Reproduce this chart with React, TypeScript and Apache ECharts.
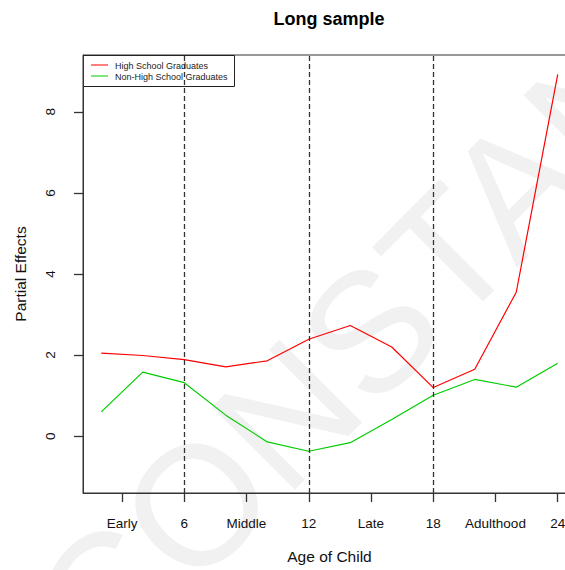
import React, { useEffect, useRef } from "react";
import * as echarts from "echarts";

const ages = [2, 4, 6, 8, 10, 12, 14, 16, 18, 20, 22, 24];
const hsGrad = [2.05, 1.99, 1.89, 1.71, 1.86, 2.39, 2.73, 2.2, 1.2, 1.65, 3.55, 8.92];
const nonHsGrad = [0.6, 1.58, 1.32, 0.52, -0.14, -0.37, -0.16, 0.41, 1.01, 1.4, 1.21, 1.8];
const xTickValues = [3, 6, 9, 12, 15, 18, 21, 24];
const xTickLabels = ["Early", "6", "Middle", "12", "Late", "18", "Adulthood", "24"];
const yTickValues = [0, 2, 4, 6, 8];
const cutoffs = [6, 12, 18];
const seriesNames = ["High School Graduates", "Non-High School Graduates"];
const seriesColors = ["#ff0000", "#00cd00"];
const chartTitle = "Long sample";

const FONT = '"Liberation Sans", Arial, sans-serif';

export default function App() {
  const ref = useRef<HTMLDivElement>(null);
  useEffect(() => {
    if (!ref.current) return;
    const chart = echarts.init(ref.current, null, { renderer: "svg" });
    const labelMap: Record<number, string> = {};
    xTickValues.forEach((v, i) => (labelMap[v] = xTickLabels[i]));
    const option: any = {
      animation: false,
      grid: {
        left: 83,
        top: 55,
        width: 493,
        height: 438,
        outerBoundsMode: "none",
        containLabel: false,
        show: true,
        borderColor: "#333",
        borderWidth: 1,
        backgroundColor: "transparent",
      },
      xAxis: {
        type: "value",
        min: 1.12,
        max: 24.88,
        name: "Age of Child",
        nameLocation: "middle",
        nameGap: 55,
        nameTextStyle: { fontFamily: FONT, fontSize: 15.5, color: "#111" },
        axisLine: { show: true, onZero: false, lineStyle: { color: "#333", width: 1 } },
        axisTick: {
          show: true,
          length: 9,
          customValues: xTickValues,
          lineStyle: { color: "#333", width: 1.3 },
        },
        axisLabel: {
          show: true,
          customValues: xTickValues,
          margin: 23,
          hideOverlap: false,
          fontFamily: FONT,
          fontSize: 13.5,
          color: "#111",
          formatter: (v: number) => labelMap[v] ?? "",
        },
        splitLine: { show: false },
      },
      yAxis: {
        type: "value",
        min: -1.4,
        max: 9.4,
        name: "Partial Effects",
        nameLocation: "middle",
        nameGap: 55,
        nameRotate: 90,
        nameTextStyle: { fontFamily: FONT, fontSize: 15.5, color: "#111" },
        axisLine: { show: true, onZero: false, lineStyle: { color: "#333", width: 1 } },
        axisTick: {
          show: true,
          length: 9,
          customValues: yTickValues,
          lineStyle: { color: "#333", width: 1.3 },
        },
        axisLabel: {
          show: true,
          customValues: yTickValues,
          rotate: 90,
          margin: 26,
          fontFamily: FONT,
          fontSize: 13.5,
          color: "#111",
          formatter: (v: number) => String(v),
        },
        splitLine: { show: false },
      },
      graphic: {
        elements: [
          {
            type: "text",
            z: -10,
            silent: true,
            x: 63,
            y: 638,
            rotation: Math.PI / 4,
            style: {
              text: "CONSTANT",
              font: '170px "Liberation Sans", Arial, sans-serif',
              fill: "#f1f1f1",
              textAlign: "left",
              textVerticalAlign: "middle",
            },
          },
          {
            type: "text",
            z: 100,
            x: 329,
            y: 19,
            style: {
              text: chartTitle,
              font: 'bold 18px "Liberation Sans", Arial, sans-serif',
              fill: "#000",
              textAlign: "center",
              textVerticalAlign: "middle",
            },
          },
          {
            type: "group",
            z: 100,
            children: [
              {
                type: "rect",
                shape: { x: 83.5, y: 55.5, width: 151, height: 31 },
                style: { fill: "#fff", stroke: "#222", lineWidth: 1 },
              },
              {
                type: "line",
                shape: { x1: 91, y1: 65, x2: 108, y2: 65 },
                style: { stroke: seriesColors[0], lineWidth: 1 },
              },
              {
                type: "line",
                shape: { x1: 91, y1: 76, x2: 108, y2: 76 },
                style: { stroke: seriesColors[1], lineWidth: 1 },
              },
              {
                type: "text",
                x: 115,
                y: 65.5,
                style: {
                  text: seriesNames[0],
                  font: '9px "Liberation Sans", Arial, sans-serif',
                  fill: "#222",
                  textAlign: "left",
                  textVerticalAlign: "middle",
                },
              },
              {
                type: "text",
                x: 115,
                y: 76.5,
                style: {
                  text: seriesNames[1],
                  font: '9px "Liberation Sans", Arial, sans-serif',
                  fill: "#222",
                  textAlign: "left",
                  textVerticalAlign: "middle",
                },
              },
            ],
          },
        ],
      },
      series: [
        {
          name: seriesNames[0],
          type: "line",
          data: ages.map((a, i) => [a, hsGrad[i]]),
          showSymbol: false,
          symbol: "none",
          lineStyle: { color: seriesColors[0], width: 1.2 },
          itemStyle: { color: seriesColors[0] },
          z: 3,
          markLine: {
            silent: true,
            symbol: "none",
            label: { show: false },
            lineStyle: { color: "#333", type: [5, 3], width: 1.3 },
            data: cutoffs.map((c) => ({ xAxis: c })),
          },
        },
        {
          name: seriesNames[1],
          type: "line",
          data: ages.map((a, i) => [a, nonHsGrad[i]]),
          showSymbol: false,
          symbol: "none",
          lineStyle: { color: seriesColors[1], width: 1.2 },
          itemStyle: { color: seriesColors[1] },
          z: 3,
        },
      ],
    };
    chart.setOption(option);
    return () => chart.dispose();
  }, []);
  return (
    <div
      ref={ref}
      style={{ position: "fixed", left: 0, top: 0, width: 565, height: 570, background: "#fff" }}
    />
  );
}
